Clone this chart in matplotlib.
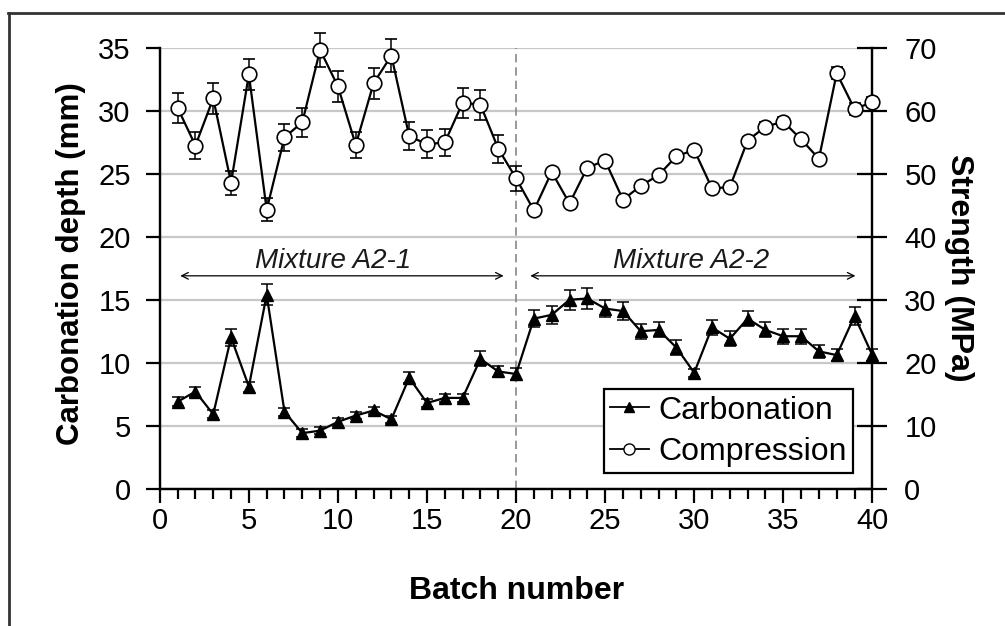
import matplotlib
matplotlib.use("Agg")
import matplotlib.pyplot as plt
from matplotlib.lines import Line2D
from matplotlib.ticker import MultipleLocator

plt.rcParams['font.family'] = ['Liberation Sans', 'DejaVu Sans']

# batch numbers 1..40 (mixture A2-1 = 1..20, A2-2 = 21..40)
batch = list(range(1, 41))

# carbonation depth, mm
carb = [6.9, 7.7, 5.9, 12.0, 8.1, 15.4, 6.1, 4.4, 4.6, 5.3,
        5.8, 6.2, 5.5, 8.8, 6.8, 7.2, 7.2, 10.3, 9.3, 9.1,
        13.5, 13.8, 15.0, 15.1, 14.3, 14.1, 12.5, 12.6, 11.2, 9.2,
        12.8, 11.9, 13.5, 12.6, 12.1, 12.1, 10.9, 10.6, 13.7, 10.6]
carb_err = [0.35, 0.4, 0.3, 0.65, 0.4, 0.85, 0.3, 0.3, 0.3, 0.3,
            0.3, 0.3, 0.3, 0.45, 0.35, 0.35, 0.35, 0.6, 0.45, 0.45,
            0.7, 0.7, 0.8, 0.8, 0.7, 0.7, 0.6, 0.6, 0.6, 0.3,
            0.6, 0.6, 0.6, 0.6, 0.6, 0.6, 0.5, 0.5, 0.7, 0.5]

# compressive strength, MPa
comp = [60.5, 54.5, 62.0, 48.6, 65.8, 44.3, 55.8, 58.2, 69.7, 63.9,
        54.6, 64.4, 68.8, 56.0, 54.7, 55.0, 61.3, 61.0, 54.0, 49.3,
        44.2, 50.3, 45.3, 51.0, 52.1, 45.9, 48.1, 49.8, 52.8, 53.8,
        47.7, 47.9, 55.3, 57.5, 58.3, 55.5, 52.4, 66.0, 60.3, 61.4]
comp_err = [2.4, 2.1, 2.5, 1.9, 2.5, 1.8, 2.2, 2.3, 2.7, 2.5,
            2.0, 2.5, 2.6, 2.2, 2.2, 2.2, 2.4, 2.4, 2.2, 2.0,
            0.4, 0.4, 0.4, 0.5, 0.5, 0.4, 0.4, 0.4, 0.5, 0.5,
            0.4, 0.4, 0.6, 0.8, 0.8, 0.6, 0.5, 1.0, 1.0, 0.8]

mixtures = ['Mixture A2-1', 'Mixture A2-2']
mix_span = [(1.15, 19.3), (20.8, 39.05)]
mix_text_x = [9.75, 29.8]


def unclip(container):
    # let markers and error bars run past the axes edge
    line, caps, bars = container
    for art in [line, *caps, *bars]:
        art.set_clip_on(False)


fig = plt.figure(figsize=(10.05, 6.26), dpi=100)
ax = fig.add_axes([0.159, 0.2196, 0.709, 0.7037])
ax2 = ax.twinx()

# carbonation on the left axis
c1 = ax.errorbar(batch, carb, yerr=carb_err, color='black', lw=1.6,
                 elinewidth=1.1, capsize=4, capthick=1.1,
                 marker='^', ms=8, mfc='black', mec='black', zorder=3)
unclip(c1)
ax.set_xlim(0, 40)
ax.set_ylim(0, 35)
ax.yaxis.set_major_locator(MultipleLocator(5))
ax.xaxis.set_major_locator(MultipleLocator(5))
ax.xaxis.set_minor_locator(MultipleLocator(1))
ax.grid(axis='y', color='#c8c8c8', lw=1.6, zorder=0)
ax.set_axisbelow(True)

# batch split between the two mixtures
ax.plot([20, 20], [0, 35], color='#888888', lw=1.2, ls=(0, (5, 3)), zorder=1)
for name, (x0, x1), tx in zip(mixtures, mix_span, mix_text_x):
    ax.annotate('', xy=(x0, 16.9), xytext=(x1, 16.9),
                arrowprops=dict(arrowstyle='<->', color='black', lw=0.9,
                                shrinkA=0, shrinkB=0, mutation_scale=12))
    ax.text(tx, 18.05, name, style='italic', fontsize=20, color='#1a1a1a',
            ha='center', va='center')

# compressive strength on the right axis
c2 = ax2.errorbar(batch, comp, yerr=comp_err, color='black', lw=1.6,
                  elinewidth=1.1, capsize=4, capthick=1.1,
                  marker='o', ms=10.5, mfc='white', mec='black', mew=1.2,
                  zorder=3)
unclip(c2)
ax2.set_ylim(0, 70)
ax2.yaxis.set_major_locator(MultipleLocator(10))
ax2.patch.set_visible(False)

for a in (ax, ax2):
    a.spines['top'].set_visible(False)
    for s in ('left', 'right', 'bottom'):
        a.spines[s].set_linewidth(1.6)

ax.tick_params(axis='x', which='major', direction='out', length=10, width=1.6,
               labelsize=21, pad=3)
ax.tick_params(axis='x', which='minor', direction='out', length=7, width=1.6)
ax.tick_params(axis='y', direction='out', length=10, width=1.6,
               labelsize=21, pad=11)
ax2.tick_params(axis='y', direction='inout', length=22, width=1.6,
                labelsize=21, pad=12)

ax.set_xlabel('Batch number', fontsize=23, fontweight='bold', va='center')
ax.xaxis.set_label_coords(0.5, -0.232)
ax.set_ylabel('Carbonation depth (mm)', fontsize=22.5, fontweight='bold',
              va='center')
ax.yaxis.set_label_coords(-0.124, 0.51)
ax2.set_ylabel('Strength (MPa)', fontsize=23, fontweight='bold',
               rotation=270, va='center')
ax2.yaxis.set_label_coords(1.122, 0.5)

handles = [Line2D([], [], color='black', lw=1.3, marker='^', ms=7, mfc='black'),
           Line2D([], [], color='black', lw=1.3, marker='o', ms=8, mfc='white')]
leg = ax2.legend(handles, ['Carbonation', 'Compression'], loc='lower right',
                 bbox_to_anchor=(0.973, 0.035), fontsize=23, frameon=True,
                 fancybox=False, edgecolor='black', framealpha=1,
                 borderaxespad=0, borderpad=0.2, handlelength=1.2,
                 handletextpad=0.3, labelspacing=0.35)
leg.get_frame().set_linewidth(1.6)

# outer frame around the figure
fig.add_artist(Line2D([0.008, 1.0], [1 - 13 / 626, 1 - 13 / 626],
                      transform=fig.transFigure, color='#333333', lw=2))
fig.add_artist(Line2D([0.009, 0.009], [0, 1 - 13 / 626],
                      transform=fig.transFigure, color='#333333', lw=2))

fig.savefig('out.png', dpi=100)
